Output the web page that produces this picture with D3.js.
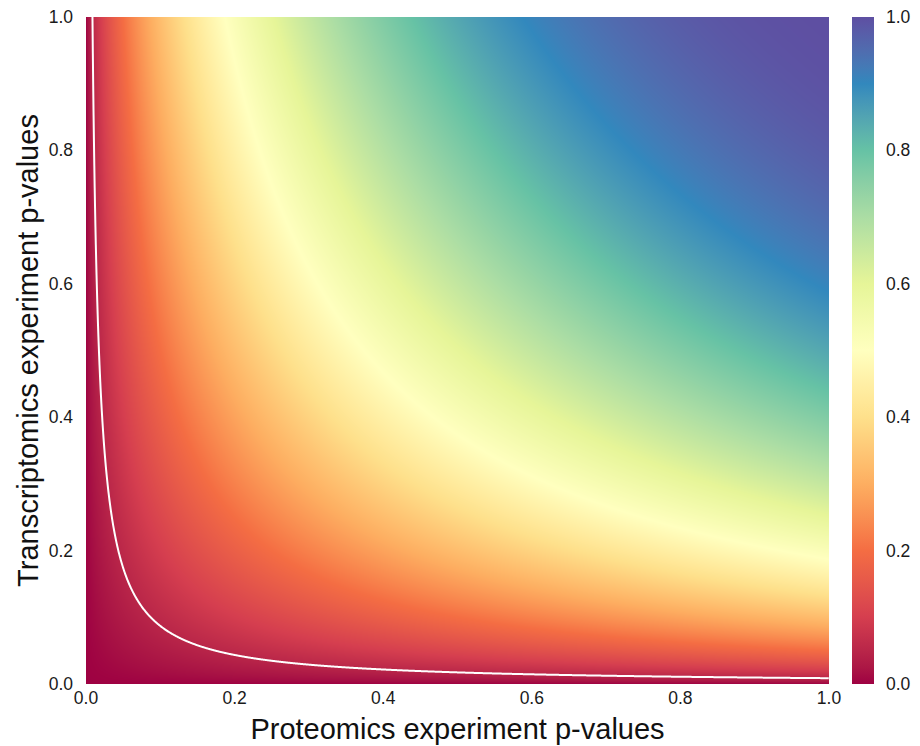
<!DOCTYPE html>
<html>
<head>
<meta charset="utf-8">
<script src="https://cdn.jsdelivr.net/npm/d3@7"></script>
<style>
  body { margin: 0; background: #fff; }
  text { font-family: "Liberation Sans", Arial, sans-serif; }
</style>
</head>
<body>
<div id="container"></div>
<script>
// tick labels on both axes and the colour bar
const xTicks = [0, 0.2, 0.4, 0.6, 0.8, 1.0];
const yTicks = [0, 0.2, 0.4, 0.6, 0.8, 1.0];
const barTicks = [0, 0.2, 0.4, 0.6, 0.8, 1.0];
const xTitle = "Proteomics experiment p-values";
const yTitle = "Transcriptomics experiment p-values";
// significance level drawn as the white line
const alphaLevel = [0.05];

const width = 920, height = 746;
const margin = { left: 86, top: 17, right: 91, bottom: 62 };
const plotW = width - margin.left - margin.right;   // 743
const plotH = height - margin.top - margin.bottom;  // 667

// Fisher's combined p-value for two tests (chi-square, 4 df)
function fisher(p1, p2) {
  const q = p1 * p2;
  if (q <= 0) return 0;
  return q * (1 - Math.log(q));
}

const svg = d3.select("#container").append("svg")
  .attr("width", width)
  .attr("height", height);

const x = d3.scaleLinear().domain([0, 1]).range([margin.left, margin.left + plotW]);
const y = d3.scaleLinear().domain([0, 1]).range([margin.top + plotH, margin.top]);

// brewer Spectral, 11 classes, interpolated in Lab
const spectral = d3.schemeSpectral[11];
const color = d3.scaleLinear()
  .domain(spectral.map((d, i) => i / (spectral.length - 1)))
  .range(spectral)
  .interpolate(d3.interpolateLab)
  .clamp(true);

//----------------------------HEATMAP----------------------------//
const canvas = document.createElement("canvas");
canvas.width = plotW;
canvas.height = plotH;
const ctx = canvas.getContext("2d");
const img = ctx.createImageData(plotW, plotH);
for (let j = 0; j < plotH; j++) {
  const p2 = y.invert(margin.top + j + 0.5);
  for (let i = 0; i < plotW; i++) {
    const p1 = x.invert(margin.left + i + 0.5);
    const c = d3.rgb(color(fisher(p1, p2)));
    const k = (j * plotW + i) * 4;
    img.data[k] = c.r; img.data[k + 1] = c.g; img.data[k + 2] = c.b; img.data[k + 3] = 255;
  }
}
ctx.putImageData(img, 0, 0);

svg.append("image")
  .attr("x", margin.left)
  .attr("y", margin.top)
  .attr("width", plotW)
  .attr("height", plotH)
  .attr("preserveAspectRatio", "none")
  .attr("href", canvas.toDataURL());

//----------------------------CONTOUR----------------------------//
// product q for which fisher == alpha, by bisection
function solveProduct(alpha) {
  let lo = 1e-12, hi = 1;
  for (let n = 0; n < 100; n++) {
    const mid = (lo + hi) / 2;
    if (fisher(mid, 1) < alpha) lo = mid; else hi = mid;
  }
  return lo;
}

svg.append("clipPath").attr("id", "plotclip")
  .append("rect")
  .attr("x", margin.left).attr("y", margin.top)
  .attr("width", plotW).attr("height", plotH);

alphaLevel.forEach(function (a) {
  const q = solveProduct(a);
  const pts = d3.range(q, 1.0001, 0.0005).map(p1 => [p1, Math.min(1, q / p1)]);
  svg.append("path")
    .datum(pts)
    .attr("clip-path", "url(#plotclip)")
    .attr("fill", "none")
    .attr("stroke", "#fff")
    .attr("stroke-width", 2)
    .attr("d", d3.line().x(d => x(d[0])).y(d => y(d[1])));
});

//-----------------------------AXES------------------------------//
const fmt = d3.format(".1f");
const tickColor = "#1a1a1a";
const tickSize = 17.5;

svg.append("g").selectAll("text")
  .data(xTicks).enter().append("text")
  .attr("x", d => x(d))
  .attr("y", margin.top + plotH + 20)
  .attr("text-anchor", "middle")
  .attr("font-size", tickSize)
  .attr("fill", tickColor)
  .text(fmt);

svg.append("g").selectAll("text")
  .data(yTicks).enter().append("text")
  .attr("x", margin.left - 13)
  .attr("y", d => y(d) + 6)
  .attr("text-anchor", "end")
  .attr("font-size", tickSize)
  .attr("fill", tickColor)
  .text(fmt);

svg.append("text")
  .attr("x", margin.left + plotW / 2)
  .attr("y", 739)
  .attr("text-anchor", "middle")
  .attr("font-size", 29)
  .attr("fill", "#111")
  .text(xTitle);

svg.append("text")
  .attr("transform", "translate(38," + (margin.top + plotH / 2) + ") rotate(-90)")
  .attr("text-anchor", "middle")
  .attr("font-size", 29)
  .attr("fill", "#111")
  .text(yTitle);

//---------------------------COLOUR BAR--------------------------//
const barX = 852, barW = 22;
const yb = d3.scaleLinear().domain([0, 1]).range([margin.top + plotH, margin.top]);

const grad = svg.append("defs").append("linearGradient")
  .attr("id", "bargrad")
  .attr("x1", 0).attr("y1", 1).attr("x2", 0).attr("y2", 0);
grad.selectAll("stop")
  .data(d3.range(0, 1.0001, 0.025))
  .enter().append("stop")
  .attr("offset", d => d)
  .attr("stop-color", d => color(d));

svg.append("rect")
  .attr("x", barX)
  .attr("y", margin.top)
  .attr("width", barW)
  .attr("height", plotH)
  .attr("fill", "url(#bargrad)");

svg.append("g").selectAll("text")
  .data(barTicks).enter().append("text")
  .attr("x", barX + barW + 12)
  .attr("y", d => yb(d) + 6)
  .attr("font-size", tickSize)
  .attr("fill", tickColor)
  .text(fmt);
</script>
</body>
</html>
